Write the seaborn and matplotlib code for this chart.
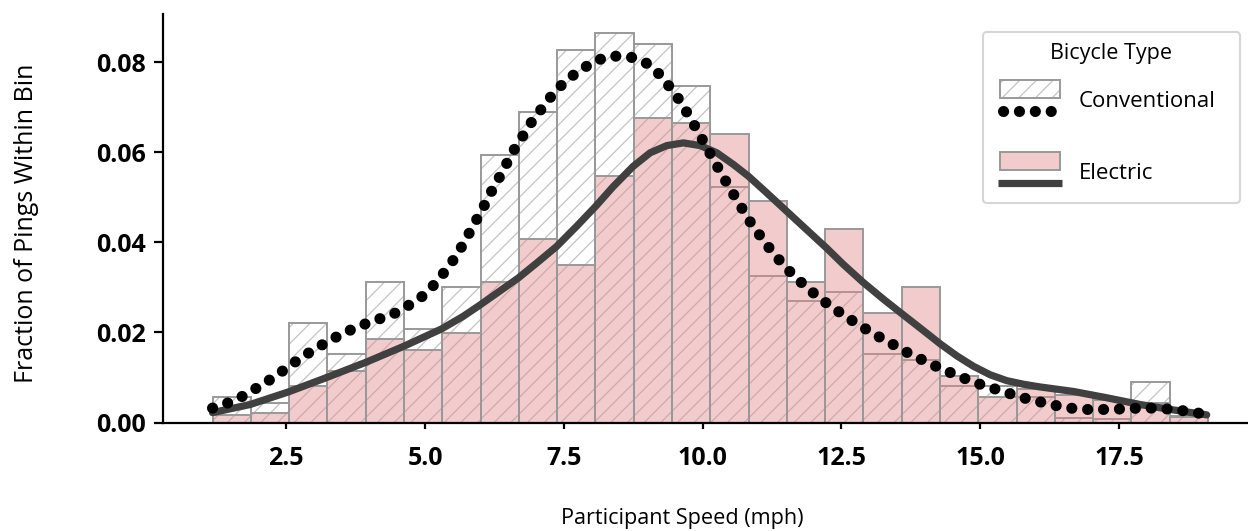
import numpy as np
import pandas as pd
import matplotlib
matplotlib.use("Agg")
import matplotlib.pyplot as plt
import seaborn as sns
from matplotlib.patches import Rectangle
from matplotlib.lines import Line2D
from matplotlib.legend_handler import HandlerBase

# ---------------- data ----------------
bin_edges = np.linspace(1.172, 19.105, 27)   # 26 speed bins (mph)

conventional_frac = [0.0057, 0.0044, 0.0222, 0.0152, 0.0313, 0.0207, 0.0302, 0.0595,
                     0.0689, 0.0828, 0.0864, 0.0841, 0.0747, 0.0524, 0.0326, 0.0269,
                     0.0290, 0.0152, 0.0139, 0.0081, 0.0080, 0.0056, 0.0010, 0.0008,
                     0.0091, 0.0015]
electric_frac = [0.0017, 0.0022, 0.0080, 0.0115, 0.0185, 0.0161, 0.0198, 0.0313,
                 0.0407, 0.0349, 0.0548, 0.0676, 0.0665, 0.0641, 0.0491, 0.0313,
                 0.0430, 0.0244, 0.0302, 0.0104, 0.0057, 0.0074, 0.0060, 0.0050,
                 0.0043, 0.0012]

conv_kde_speed = [1.172, 1.46, 1.743, 2.013, 2.271, 2.530, 2.782, 3.040, 3.323, 3.593,
                  3.881, 4.174, 4.462, 4.715, 4.985, 5.201, 5.393, 5.574, 5.736, 5.885,
                  6.035, 6.173, 6.323, 6.474, 6.624, 6.786, 6.953, 7.146, 7.331, 7.565,
                  7.812, 8.082, 8.352, 8.694, 8.977, 9.217, 9.415, 9.595, 9.757, 9.914,
                  10.063, 10.213, 10.364, 10.526, 10.688, 10.843, 11.023, 11.216, 11.414,
                  11.625, 11.859, 12.098, 12.345, 12.608, 12.867, 13.137, 13.407, 13.677,
                  13.958, 14.236, 14.517, 14.817, 15.105, 15.399, 15.700, 16.006, 16.306,
                  16.618, 16.919, 17.230, 17.549, 17.861, 18.167, 18.478, 18.791, 19.098]
conv_kde_frac = [0.0032, 0.0044, 0.0060, 0.0080, 0.0100, 0.0123, 0.0145, 0.0165, 0.0185,
                 0.0202, 0.0217, 0.0230, 0.0243, 0.0261, 0.0283, 0.0311, 0.0341, 0.0372,
                 0.0407, 0.0441, 0.0474, 0.0508, 0.0541, 0.0576, 0.0610, 0.0641, 0.0674,
                 0.0704, 0.0734, 0.0762, 0.0784, 0.0804, 0.0814, 0.0812, 0.0799, 0.0774,
                 0.0744, 0.0714, 0.0680, 0.0647, 0.0613, 0.0580, 0.0547, 0.0513, 0.0480,
                 0.0448, 0.0417, 0.0385, 0.0356, 0.0328, 0.0302, 0.0277, 0.0255, 0.0233,
                 0.0213, 0.0193, 0.0175, 0.0156, 0.0139, 0.0123, 0.0108, 0.0093, 0.0080,
                 0.0070, 0.0057, 0.0048, 0.0039, 0.0032, 0.0029, 0.0029, 0.0030, 0.0032,
                 0.0032, 0.0029, 0.0024, 0.0017]

elec_kde_speed = [1.172, 1.85, 2.54, 3.23, 3.94, 4.63, 5.30, 5.69, 5.99, 6.29, 6.68,
                  7.01, 7.37, 7.74, 8.08, 8.39, 8.75, 9.055, 9.355, 9.655, 9.955, 10.256,
                  10.555, 10.825, 11.156, 11.516, 11.876, 12.237, 12.536, 12.885, 13.256,
                  13.575, 13.917, 14.277, 14.58, 14.877, 15.18, 15.478, 15.78, 16.078,
                  16.678, 17.278, 17.879, 18.478, 19.08]
elec_kde_frac = [0.0022, 0.0040, 0.0068, 0.0100, 0.0134, 0.0170, 0.0208, 0.0236, 0.0261,
                 0.0287, 0.0321, 0.0354, 0.0391, 0.0437, 0.0481, 0.0524, 0.0569, 0.0599,
                 0.0615, 0.0621, 0.0615, 0.0599, 0.0573, 0.0547, 0.0510, 0.0469, 0.0428,
                 0.0387, 0.0351, 0.0312, 0.0274, 0.0243, 0.0210, 0.0175, 0.0148, 0.0125,
                 0.0106, 0.0093, 0.0085, 0.0079, 0.0069, 0.0055, 0.0040, 0.0028, 0.0017]

labels = ["Conventional", "Electric"]
legend_title = "Bicycle Type"
xlabel = "Participant Speed (mph)"
ylabel = "Fraction of Pings Within Bin"

# ---------------- style ----------------
sns.set_theme(style="ticks")
plt.rcParams["font.family"] = ["Open Sans", "DejaVu Sans"]
plt.rcParams["hatch.linewidth"] = 0.9
for k in ("text.color", "axes.labelcolor", "xtick.color", "ytick.color"):
    plt.rcParams[k] = "black"

PINK = (0.88, 0.53, 0.53, 0.42)
EDGE = "#999999"
HATCH_C = "#c4c4c4"
DOT_LW = 8.0
DOT_LS = (0, (0.01, 1.42))
ELEC_LW = 5.2

centers = (bin_edges[:-1] + bin_edges[1:]) / 2
df_conv = pd.DataFrame({"speed": centers, "frac": conventional_frac})
df_elec = pd.DataFrame({"speed": centers, "frac": electric_frac})
edges = list(bin_edges)

fig = plt.figure(figsize=(12.48, 5.31), dpi=100)
ax = fig.add_axes([0.1304, 0.2043, 0.8775, 0.7693])

# conventional: hatch layer
n0 = len(ax.patches)
sns.histplot(data=df_conv, x="speed", weights="frac", bins=edges, stat="count",
             element="bars", fill=True, ax=ax)
for p in ax.patches[n0:]:
    p.set_facecolor("white")
    p.set_edgecolor(HATCH_C)
    p.set_linewidth(0)
    p.set_hatch("//")
# conventional: outline layer
n0 = len(ax.patches)
sns.histplot(data=df_conv, x="speed", weights="frac", bins=edges, stat="count",
             element="bars", fill=True, ax=ax)
for p in ax.patches[n0:]:
    p.set_facecolor("none")
    p.set_edgecolor(EDGE)
    p.set_linewidth(1.4)
# electric
n0 = len(ax.patches)
sns.histplot(data=df_elec, x="speed", weights="frac", bins=edges, stat="count",
             element="bars", fill=True, ax=ax)
for p in ax.patches[n0:]:
    p.set_facecolor(PINK)
    p.set_edgecolor(EDGE)
    p.set_linewidth(1.4)

# KDE curves
sns.lineplot(x=elec_kde_speed, y=elec_kde_frac, ax=ax, color="#404040",
             linewidth=ELEC_LW, solid_capstyle="round", solid_joinstyle="round", zorder=5)
sns.lineplot(x=conv_kde_speed, y=conv_kde_frac, ax=ax, color="black",
             linewidth=DOT_LW, linestyle=DOT_LS, dash_capstyle="round", zorder=6)

# axes cosmetics
sns.despine(ax=ax)
xt = [2.5, 5.0, 7.5, 10.0, 12.5, 15.0, 17.5]
yt = [0.0, 0.02, 0.04, 0.06, 0.08]
ax.set_xticks(xt)
ax.set_yticks(yt)
ax.set_yticklabels([f"{v:.2f}" for v in yt])
ax.set_xticklabels([f"{v:.1f}" for v in xt])
for s in ("left", "bottom"):
    ax.spines[s].set_linewidth(1.6)
    ax.spines[s].set_color("black")
ax.tick_params(axis="both", width=1.6, color="black", labelsize=18)
ax.tick_params(axis="x", length=4.2, pad=13)
ax.tick_params(axis="y", length=6.8, pad=5.5)
for t in ax.get_xticklabels() + ax.get_yticklabels():
    t.set_fontweight("bold")

ax.set_xlabel(xlabel, fontsize=15.6)
ax.set_ylabel(ylabel, fontsize=18)
ax.xaxis.label.set_va("center")
ax.yaxis.label.set_va("center")
ax.xaxis.set_label_coords(0.474, -0.234)
ax.yaxis.set_label_coords(-0.1245, 0.487)


# legend with stacked (bar over line) handles
LEG_FS = 16.0
PX = 72.0 / 100.0          # one pixel in points
HANDLE_LEFT = 6 * PX        # blank space before the handle graphics
PATCH_W = 60 * PX
PATCH_H = 18 * PX
LINE_FROM_BOTTOM = 9 * PX


class StackedHandler(HandlerBase):
    def create_artists(self, legend, orig_handle, xdescent, ydescent, width, height,
                       fontsize, trans):
        patch_kw, line_kw = orig_handle
        x0 = -xdescent + HANDLE_LEFT
        y0 = -ydescent
        py = y0 + height - PATCH_H
        arts = []
        if patch_kw.get("hatch"):
            arts.append(Rectangle((x0, py), PATCH_W, PATCH_H, facecolor="white",
                                  edgecolor=HATCH_C, lw=0, hatch=patch_kw["hatch"],
                                  transform=trans))
            arts.append(Rectangle((x0, py), PATCH_W, PATCH_H, facecolor="none",
                                  edgecolor=EDGE, lw=1.4, transform=trans))
        else:
            arts.append(Rectangle((x0, py), PATCH_W, PATCH_H,
                                  facecolor=patch_kw["facecolor"],
                                  edgecolor=EDGE, lw=1.4, transform=trans))
        ly = y0 + LINE_FROM_BOTTOM
        if line_kw.get("dotted"):
            ln = Line2D([x0 + 3 * PX, x0 + PATCH_W], [ly, ly], color=line_kw["color"],
                        lw=line_kw["lw"], linestyle=DOT_LS, dash_capstyle="round",
                        transform=trans)
        else:
            ln = Line2D([x0 - 2 * PX, x0 + PATCH_W + 2 * PX], [ly, ly],
                        color=line_kw["color"], lw=line_kw["lw"], solid_capstyle="butt",
                        transform=trans)
        arts.append(ln)
        return arts


# handle box height 40 px: fs*(0.65*h + 0.245) = 40 px
hh = ((40 * PX) / LEG_FS - 0.245) / 0.65
handles = [({"hatch": "//"}, {"dotted": True, "color": "black", "lw": DOT_LW}),
           ({"facecolor": PINK}, {"dotted": False, "color": "#404040", "lw": ELEC_LW})]
leg = ax.legend(handles, labels, title=legend_title, handler_map={tuple: StackedHandler()},
                loc="upper left",
                bbox_to_anchor=(983 / 1248, 1 - 208 / 531, 257 / 1248, 176 / 531),
                bbox_transform=fig.transFigure, mode="expand", borderaxespad=0,
                fontsize=LEG_FS, title_fontsize=15.5,
                handlelength=(66 * PX) / LEG_FS, handleheight=hh,
                labelspacing=(32 * PX) / LEG_FS,
                handletextpad=(19 * PX) / LEG_FS, borderpad=0.5,
                frameon=True, fancybox=True)
leg.get_frame().set_edgecolor("#cccccc")
leg.get_frame().set_linewidth(1.5)
leg._legend_box.sep = 11.5

fig.savefig("out.png", dpi=100)
